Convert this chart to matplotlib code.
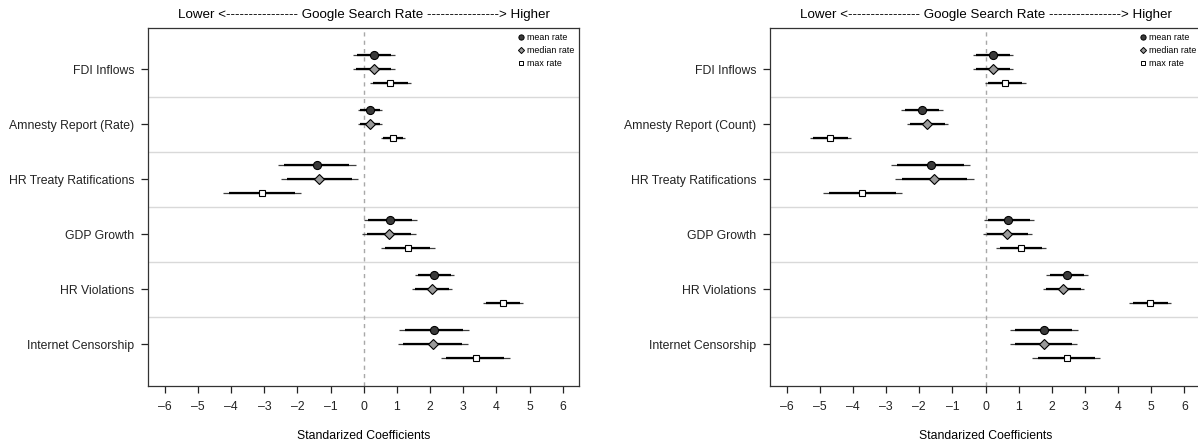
#!/usr/bin/env python3
"""Coefficient plot: Google search rate models, two panels."""

from __future__ import annotations

import matplotlib

matplotlib.use("Agg")
import matplotlib.pyplot as plt
import numpy as np
from matplotlib.lines import Line2D

plt.rcParams["font.family"] = ["Liberation Sans", "DejaVu Sans"]

# rows are listed top to bottom
LEFT_LABELS = [
    "FDI Inflows",
    "Amnesty Report (Rate)",
    "HR Treaty Ratifications",
    "GDP Growth",
    "HR Violations",
    "Internet Censorship",
]
RIGHT_LABELS = [
    "FDI Inflows",
    "Amnesty Report (Count)",
    "HR Treaty Ratifications",
    "GDP Growth",
    "HR Violations",
    "Internet Censorship",
]

# left panel: estimate and 95% interval
LEFT_MEAN = [0.31, 0.18, -1.42, 0.79, 2.13, 2.12]
LEFT_MEAN_LO = [-0.32, -0.17, -2.60, 0.00, 1.53, 1.07]
LEFT_MEAN_HI = [0.93, 0.55, -0.25, 1.59, 2.73, 3.17]
LEFT_MEDIAN = [0.30, 0.19, -1.34, 0.75, 2.05, 2.08]
LEFT_MEDIAN_LO = [-0.33, -0.17, -2.51, -0.04, 1.46, 1.02]
LEFT_MEDIAN_HI = [0.93, 0.56, -0.17, 1.56, 2.67, 3.13]
LEFT_MAX = [0.80, 0.87, -3.08, 1.32, 4.21, 3.37]
LEFT_MAX_LO = [0.18, 0.51, -4.26, 0.52, 3.59, 2.32]
LEFT_MAX_HI = [1.43, 1.23, -1.90, 2.14, 4.80, 4.41]

# right panel: estimate and 95% interval
RIGHT_MEAN = [0.22, -1.92, -1.65, 0.69, 2.45, 1.75]
RIGHT_MEAN_LO = [-0.39, -2.54, -2.85, -0.05, 1.83, 0.74]
RIGHT_MEAN_HI = [0.84, -1.29, -0.47, 1.45, 3.08, 2.78]
RIGHT_MEDIAN = [0.23, -1.75, -1.55, 0.66, 2.34, 1.75]
RIGHT_MEDIAN_LO = [-0.39, -2.37, -2.72, -0.09, 1.73, 0.73]
RIGHT_MEDIAN_HI = [0.84, -1.13, -0.36, 1.41, 2.98, 2.76]
RIGHT_MAX = [0.59, -4.68, -3.71, 1.08, 4.97, 2.45]
RIGHT_MAX_LO = [-0.02, -5.30, -4.90, 0.32, 4.34, 1.41]
RIGHT_MAX_HI = [1.21, -4.06, -2.52, 1.83, 5.60, 3.46]

SERIES_NAMES = ["mean rate", "median rate", "max rate"]
XTICKS = list(range(-6, 7))

TITLE = "Lower <" + "-" * 16 + " Google Search Rate " + "-" * 16 + "> Higher"
XLABEL = "Standarized Coefficients"

# marker style per series: (marker, face, size, offset within a row)
STYLES = [
    ("o", "#3a3a3a", 5.8, -0.255),
    ("D", "#9a9a9a", 4.8, 0.0),
    ("s", "white", 5.0, 0.255),
]
INNER_RATIO = 1.645 / 1.96  # 90% band drawn thicker inside the 95% one
FONT = 8.8


def _draw_panel(ax, labels, series) -> None:
    n = len(labels)
    rows = np.arange(1, n + 1)

    for sep in rows[:-1] + 0.5:
        ax.axhline(sep, color="#d9d9d9", lw=1.0, zorder=0)
    ax.axvline(0, color="#a8a8a8", lw=1.0, ls=(0, (3, 3)), zorder=1)

    for (est, lo, hi), (marker, face, size, offset) in zip(series, STYLES):
        est = np.asarray(est)
        lo = np.asarray(lo)
        hi = np.asarray(hi)
        y = rows + offset
        half = (hi - lo) / 2 * INNER_RATIO
        mid = (hi + lo) / 2
        ax.hlines(y, lo, hi, color="#404040", lw=0.9, zorder=2)
        ax.hlines(y, mid - half, mid + half, color="black", lw=1.6, zorder=3)
        ax.plot(est, y, ls="none", marker=marker, ms=size, mfc=face,
                mec="black", mew=0.8, zorder=4)

    ax.set_xlim(-6.5, 6.5)
    ax.set_ylim(n + 0.75, 0.25)
    ax.set_xticks(XTICKS)
    ax.set_xticklabels([str(t).replace("-", "\u2013") for t in XTICKS])
    ax.set_yticks(rows)
    ax.set_yticklabels(labels)
    ax.tick_params(axis="both", direction="out", length=5, width=0.9,
                   labelsize=FONT, colors="#222222")
    ax.tick_params(axis="x", pad=6)
    ax.tick_params(axis="y", pad=5)
    for spine in ax.spines.values():
        spine.set_linewidth(0.9)
        spine.set_color("#333333")

    ax.set_title(TITLE, fontsize=9.6, pad=7)
    ax.set_xlabel(XLABEL, fontsize=FONT, labelpad=12)

    handles = [
        Line2D([], [], ls="none", marker=m, ms=s * 0.65, mfc=f, mec="black", mew=0.7)
        for m, f, s, _ in STYLES
    ]
    ax.legend(handles, SERIES_NAMES, loc="upper right", frameon=False,
              fontsize=6.4, handletextpad=0.1, labelspacing=0.45,
              borderaxespad=0.15, handlelength=1.2)


def main() -> int:
    fig = plt.figure(figsize=(11.98, 4.46), dpi=100)
    ax_l = fig.add_axes([148.3 / 1198, 1 - 385.7 / 446, 431 / 1198, 357.7 / 446])
    ax_r = fig.add_axes([770 / 1198, 1 - 385.7 / 446, 431 / 1198, 357.7 / 446])

    _draw_panel(ax_l, LEFT_LABELS, [
        (LEFT_MEAN, LEFT_MEAN_LO, LEFT_MEAN_HI),
        (LEFT_MEDIAN, LEFT_MEDIAN_LO, LEFT_MEDIAN_HI),
        (LEFT_MAX, LEFT_MAX_LO, LEFT_MAX_HI),
    ])
    _draw_panel(ax_r, RIGHT_LABELS, [
        (RIGHT_MEAN, RIGHT_MEAN_LO, RIGHT_MEAN_HI),
        (RIGHT_MEDIAN, RIGHT_MEDIAN_LO, RIGHT_MEDIAN_HI),
        (RIGHT_MAX, RIGHT_MAX_LO, RIGHT_MAX_HI),
    ])

    fig.savefig("out.png", dpi=100)
    plt.close(fig)
    return 0


if __name__ == "__main__":
    raise SystemExit(main())
